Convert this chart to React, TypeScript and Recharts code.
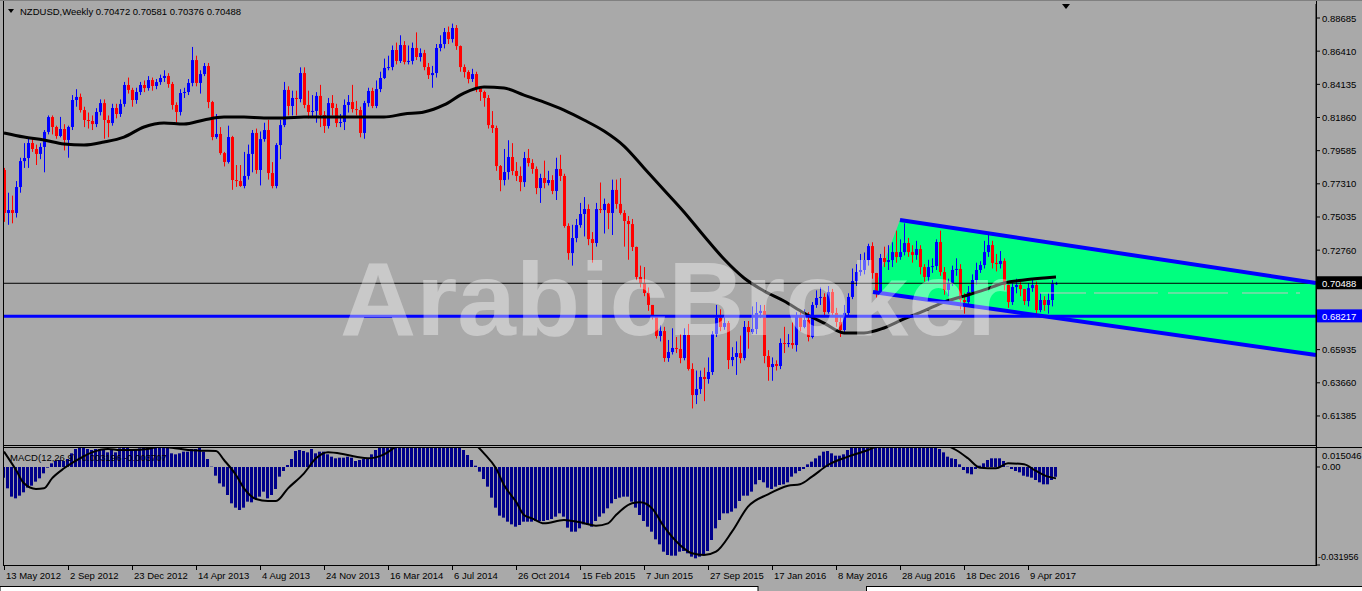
import React from "react";
import { Area, Bar, ComposedChart, Line, ReferenceLine, XAxis, YAxis } from "recharts";

// weekly NZDUSD candles, index 0 = 13 May 2012
const firstOpen = 0.7826;
const closes = [
  0.7531, 0.7551, 0.7531, 0.7709, 0.7887, 0.7908, 0.8011, 0.7970, 0.7936, 0.7984,
  0.8087, 0.8189, 0.8121, 0.8059, 0.8107, 0.8032, 0.8121, 0.8306, 0.8327, 0.8237,
  0.8169, 0.8162, 0.8141, 0.8224, 0.8285, 0.8169, 0.8148, 0.8251, 0.8210, 0.8279,
  0.8409, 0.8375, 0.8306, 0.8361, 0.8409, 0.8388, 0.8443, 0.8402, 0.8429, 0.8457,
  0.8471, 0.8416, 0.8272, 0.8224, 0.8354, 0.8361, 0.8423, 0.8580, 0.8423, 0.8484,
  0.8539, 0.8292, 0.8052, 0.8073, 0.7942, 0.7881, 0.8052, 0.7757, 0.7750, 0.7716,
  0.7785, 0.7936, 0.8080, 0.7826, 0.8038, 0.8100, 0.7805, 0.7716, 0.7997, 0.8134,
  0.8375, 0.8265, 0.8320, 0.8313, 0.8491, 0.8272, 0.8224, 0.8231, 0.8334, 0.8203,
  0.8128, 0.8285, 0.8251, 0.8148, 0.8155, 0.8272, 0.8292, 0.8244, 0.8237, 0.8080,
  0.8285, 0.8368, 0.8265, 0.8381, 0.8457, 0.8526, 0.8532, 0.8649, 0.8574, 0.8683,
  0.8567, 0.8574, 0.8663, 0.8601, 0.8628, 0.8532, 0.8477, 0.8491, 0.8663, 0.8690,
  0.8772, 0.8724, 0.8800, 0.8676, 0.8532, 0.8498, 0.8450, 0.8484, 0.8388, 0.8361,
  0.8320, 0.8134, 0.8114, 0.7853, 0.7757, 0.7812, 0.7915, 0.7819, 0.7785, 0.7743,
  0.7908, 0.7874, 0.7833, 0.7702, 0.7771, 0.7737, 0.7757, 0.7682, 0.7833, 0.7785,
  0.7442, 0.7256, 0.7359, 0.7448, 0.7524, 0.7558, 0.7352, 0.7325, 0.7558, 0.7551,
  0.7593, 0.7531, 0.7689, 0.7593, 0.7531, 0.7476, 0.7455, 0.7298, 0.7092, 0.7051,
  0.6982, 0.6900, 0.6824, 0.6687, 0.6721, 0.6536, 0.6577, 0.6605, 0.6598, 0.6536,
  0.6694, 0.6461, 0.6282, 0.6323, 0.6406, 0.6392, 0.6440, 0.6701, 0.6811, 0.6749,
  0.6776, 0.6522, 0.6543, 0.6570, 0.6536, 0.6749, 0.6714, 0.6735, 0.6845, 0.6859,
  0.6550, 0.6474, 0.6495, 0.6481, 0.6639, 0.6632, 0.6639, 0.6625, 0.6824, 0.6749,
  0.6797, 0.6680, 0.6900, 0.6948, 0.6955, 0.6852, 0.6989, 0.6845, 0.6783, 0.6728,
  0.6845, 0.6955, 0.7064, 0.7126, 0.7140, 0.7208, 0.7304, 0.7119, 0.6989, 0.7222,
  0.7195, 0.7208, 0.7263, 0.7229, 0.7263, 0.7325, 0.7263, 0.7243, 0.7284, 0.7160,
  0.7092, 0.7160, 0.7167, 0.7332, 0.7126, 0.7003, 0.7051, 0.7140, 0.7147, 0.6934,
  0.6920, 0.6989, 0.7071, 0.7140, 0.7174, 0.7263, 0.7311, 0.7188, 0.7181, 0.7202,
  0.7037, 0.6920, 0.7023, 0.7037, 0.7009, 0.6927, 0.7016, 0.7037, 0.6865, 0.6934,
  0.6900, 0.6934, 0.7047, 0.70488,
];
const highs = [
  0.784, 0.767, 0.765, 0.775, 0.791, 0.801, 0.804, 0.804, 0.800, 0.801,
  0.810, 0.820, 0.820, 0.813, 0.819, 0.814, 0.813, 0.834, 0.838, 0.835,
  0.826, 0.822, 0.820, 0.825, 0.831, 0.831, 0.820, 0.828, 0.828, 0.831,
  0.843, 0.846, 0.839, 0.839, 0.843, 0.844, 0.847, 0.846, 0.845, 0.848,
  0.851, 0.849, 0.843, 0.829, 0.838, 0.839, 0.845, 0.867, 0.861, 0.851,
  0.856, 0.856, 0.830, 0.821, 0.812, 0.795, 0.813, 0.806, 0.786, 0.786,
  0.795, 0.800, 0.810, 0.811, 0.809, 0.815, 0.817, 0.788, 0.801, 0.817,
  0.843, 0.840, 0.837, 0.837, 0.853, 0.853, 0.837, 0.834, 0.836, 0.841,
  0.823, 0.832, 0.834, 0.828, 0.821, 0.831, 0.834, 0.841, 0.830, 0.826,
  0.830, 0.839, 0.839, 0.844, 0.850, 0.859, 0.861, 0.868, 0.870, 0.875,
  0.871, 0.868, 0.870, 0.877, 0.866, 0.865, 0.856, 0.854, 0.869, 0.875,
  0.880, 0.881, 0.883, 0.882, 0.868, 0.855, 0.851, 0.852, 0.850, 0.840,
  0.837, 0.834, 0.823, 0.813, 0.786, 0.797, 0.803, 0.801, 0.788, 0.785,
  0.795, 0.797, 0.790, 0.785, 0.780, 0.789, 0.782, 0.779, 0.791, 0.793,
  0.780, 0.746, 0.745, 0.749, 0.760, 0.764, 0.759, 0.740, 0.760, 0.774,
  0.763, 0.760, 0.776, 0.776, 0.777, 0.755, 0.751, 0.749, 0.730, 0.717,
  0.716, 0.702, 0.690, 0.683, 0.676, 0.675, 0.666, 0.674, 0.668, 0.670,
  0.674, 0.677, 0.650, 0.645, 0.645, 0.647, 0.654, 0.672, 0.690, 0.687,
  0.682, 0.679, 0.661, 0.665, 0.669, 0.679, 0.679, 0.689, 0.692, 0.690,
  0.690, 0.659, 0.654, 0.652, 0.667, 0.675, 0.670, 0.678, 0.685, 0.685,
  0.687, 0.685, 0.692, 0.700, 0.702, 0.698, 0.703, 0.701, 0.688, 0.682,
  0.690, 0.698, 0.715, 0.718, 0.725, 0.726, 0.732, 0.733, 0.712, 0.725,
  0.730, 0.731, 0.733, 0.741, 0.735, 0.746, 0.736, 0.731, 0.734, 0.731,
  0.718, 0.721, 0.722, 0.735, 0.741, 0.716, 0.708, 0.717, 0.722, 0.718,
  0.698, 0.703, 0.711, 0.719, 0.720, 0.734, 0.738, 0.734, 0.725, 0.727,
  0.722, 0.704, 0.705, 0.708, 0.706, 0.701, 0.705, 0.708, 0.706, 0.698,
  0.696, 0.698, 0.707, 0.70581,
];
const lows = [
  0.747, 0.745, 0.746, 0.750, 0.767, 0.784, 0.784, 0.795, 0.786, 0.790,
  0.781, 0.807, 0.807, 0.804, 0.805, 0.796, 0.791, 0.810, 0.826, 0.822,
  0.812, 0.811, 0.810, 0.812, 0.820, 0.804, 0.805, 0.813, 0.818, 0.819,
  0.826, 0.835, 0.826, 0.828, 0.834, 0.836, 0.837, 0.837, 0.838, 0.841,
  0.843, 0.839, 0.824, 0.815, 0.820, 0.832, 0.834, 0.840, 0.840, 0.835,
  0.847, 0.825, 0.803, 0.804, 0.793, 0.785, 0.787, 0.769, 0.771, 0.771,
  0.770, 0.776, 0.781, 0.780, 0.772, 0.802, 0.776, 0.770, 0.770, 0.790,
  0.812, 0.820, 0.820, 0.820, 0.829, 0.825, 0.818, 0.819, 0.815, 0.812,
  0.808, 0.811, 0.820, 0.812, 0.812, 0.810, 0.822, 0.822, 0.820, 0.805,
  0.804, 0.826, 0.825, 0.825, 0.836, 0.845, 0.851, 0.851, 0.855, 0.856,
  0.855, 0.855, 0.855, 0.858, 0.857, 0.851, 0.845, 0.839, 0.846, 0.864,
  0.866, 0.869, 0.870, 0.865, 0.850, 0.846, 0.842, 0.843, 0.836, 0.830,
  0.826, 0.811, 0.808, 0.782, 0.768, 0.772, 0.776, 0.779, 0.775, 0.768,
  0.771, 0.785, 0.780, 0.766, 0.760, 0.770, 0.772, 0.766, 0.762, 0.775,
  0.743, 0.721, 0.717, 0.733, 0.743, 0.737, 0.731, 0.719, 0.730, 0.753,
  0.739, 0.742, 0.738, 0.756, 0.752, 0.730, 0.721, 0.727, 0.707, 0.702,
  0.696, 0.686, 0.680, 0.667, 0.665, 0.651, 0.651, 0.656, 0.657, 0.650,
  0.652, 0.645, 0.619, 0.622, 0.629, 0.624, 0.636, 0.642, 0.668, 0.672,
  0.673, 0.646, 0.648, 0.642, 0.650, 0.652, 0.660, 0.670, 0.670, 0.681,
  0.650, 0.638, 0.638, 0.645, 0.646, 0.657, 0.661, 0.660, 0.658, 0.672,
  0.674, 0.665, 0.667, 0.688, 0.690, 0.683, 0.684, 0.683, 0.675, 0.668,
  0.671, 0.683, 0.694, 0.703, 0.710, 0.711, 0.717, 0.708, 0.695, 0.697,
  0.716, 0.714, 0.716, 0.719, 0.721, 0.724, 0.723, 0.719, 0.721, 0.711,
  0.706, 0.706, 0.712, 0.714, 0.710, 0.697, 0.696, 0.703, 0.710, 0.687,
  0.684, 0.689, 0.697, 0.704, 0.712, 0.715, 0.723, 0.715, 0.713, 0.715,
  0.700, 0.688, 0.690, 0.698, 0.696, 0.690, 0.689, 0.699, 0.684, 0.685,
  0.686, 0.684, 0.689, 0.70376,
];

// moving average, read every 5 bars
const maIdx = [0, 5, 10, 15, 20, 25, 30, 35, 40, 45, 50, 55, 60, 65, 70, 75, 80, 85, 90, 95, 100, 105, 110, 115, 120, 125, 130, 135, 140, 145, 150, 155, 160, 165, 170, 175, 180, 185, 190, 195, 200, 205, 210, 215, 220, 225, 230, 235, 240, 245, 250, 255, 260, 263];
const maVal = [
  0.8080, 0.8052, 0.8032, 0.8004, 0.7997, 0.8018, 0.8052, 0.8121, 0.8148, 0.8141,
  0.8169, 0.8189, 0.8189, 0.8183, 0.8183, 0.8189, 0.8189, 0.8189, 0.8189, 0.8189,
  0.8210, 0.8224, 0.8272, 0.8354, 0.8395, 0.8388, 0.8340, 0.8292, 0.8237, 0.8169,
  0.8093, 0.7990, 0.7840, 0.7689, 0.7538, 0.7373, 0.7215, 0.7085, 0.6996, 0.6927,
  0.6845, 0.6776, 0.6708, 0.6708, 0.6742, 0.6804, 0.6859, 0.6920, 0.6961, 0.7003,
  0.7051, 0.7071, 0.7085, 0.7092,
];

// MACD(12,26,9) main values, one per bar
const macdVals = [
  -0.00348, -0.00696, -0.00967, -0.01022, -0.00935, -0.00826, -0.00674, -0.00609, -0.00478, -0.00370,
  -0.00207, -0.00022, 0.00120, 0.00196, 0.00228, 0.00196, 0.00261, 0.00446, 0.00587, 0.00641,
  0.00630, 0.00587, 0.00554, 0.00587, 0.00587, 0.00554, 0.00478, 0.00554, 0.00478, 0.00609,
  0.00720, 0.00630, 0.00554, 0.00587, 0.00609, 0.00663, 0.00663, 0.00685, 0.00696, 0.00696,
  0.00663, 0.00630, 0.00446, 0.00413, 0.00446, 0.00500, 0.00500, 0.00587, 0.00587, 0.00663,
  0.00500, 0.00261, 0.00011, -0.00283, -0.00533, -0.00641, -0.00913, -0.01185, -0.01326, -0.01402,
  -0.01326, -0.01130, -0.01152, -0.01043, -0.00967, -0.00804, -0.01022, -0.00913, -0.00717, -0.00315,
  -0.00130, 0.00065, 0.00261, 0.00522, 0.00554, 0.00522, 0.00478, 0.00587, 0.00446, 0.00500,
  0.00500, 0.00413, 0.00337, 0.00283, 0.00304, 0.00304, 0.00337, 0.00304, 0.00196, 0.00228,
  0.00261, 0.00283, 0.00413, 0.00554, 0.00663, 0.0078, 0.0088, 0.0098, 0.0108, 0.0117,
  0.0125, 0.0132, 0.0138, 0.0143, 0.0147, 0.0150, 0.0150, 0.0147, 0.0142, 0.0135,
  0.0127, 0.0118, 0.0108, 0.0097, 0.0085, 0.00554, 0.00391, 0.00228, 0.00043, -0.00152,
  -0.00391, -0.00641, -0.01000, -0.01326, -0.01587, -0.01652, -0.01783, -0.01870, -0.01946, -0.01891,
  -0.01783, -0.01783, -0.01783, -0.01761, -0.01761, -0.01761, -0.01728, -0.01696, -0.01620, -0.01511,
  -0.01620, -0.01978, -0.02109, -0.02109, -0.02000, -0.01870, -0.01891, -0.01946, -0.01761, -0.01620,
  -0.01511, -0.01348, -0.01185, -0.01043, -0.01000, -0.00967, -0.00967, -0.01130, -0.01326, -0.01565,
  -0.01761, -0.01946, -0.02109, -0.02359, -0.02522, -0.02761, -0.02870, -0.02891, -0.02891, -0.02761,
  -0.02739, -0.02815, -0.02924, -0.02978, -0.02924, -0.02870, -0.02739, -0.02380, -0.02000, -0.01728,
  -0.01511, -0.01511, -0.01457, -0.01348, -0.01109, -0.00935, -0.00935, -0.00804, -0.00565, -0.00424,
  -0.00500, -0.00674, -0.00717, -0.00641, -0.00587, -0.00565, -0.00500, -0.00315, -0.00207, -0.00130,
  -0.00065, 0.00087, 0.00174, 0.00283, 0.00370, 0.00500, 0.00522, 0.00446, 0.00370, 0.00370,
  0.00413, 0.00554, 0.00663, 0.0078, 0.0089, 0.0100, 0.0110, 0.0120, 0.0128, 0.0135,
  0.0141, 0.0146, 0.0150, 0.0150, 0.0148, 0.0144, 0.0138, 0.0130, 0.0121, 0.0111,
  0.0100, 0.0089, 0.0078, 0.00663, 0.00587, 0.00478, 0.00337, 0.00283, 0.00261, 0.00087,
  -0.00098, -0.00207, -0.00239, -0.00065, 0.00043, 0.00120, 0.00228, 0.00283, 0.00283, 0.00283,
  0.00196, 0.00011, -0.00065, -0.00130, -0.00174, -0.00283, -0.00315, -0.00348, -0.00424, -0.00500,
  -0.00565, -0.00565, -0.00424, -0.003196,
];

// MACD signal line
const sigIdx = [0, 3, 5, 8, 10, 12, 15, 19, 22, 26, 29, 32, 36, 39, 42, 46, 49, 53, 55, 58, 60, 63, 66, 68, 71, 75, 78, 81, 85, 88, 91, 95, 98, 100, 104, 108, 112, 115, 118, 120, 123, 125, 128, 130, 132, 135, 140, 144, 148, 151, 153, 157, 159, 162, 165, 169, 172, 175, 178, 182, 186, 191, 196, 199, 202, 206, 211, 216, 219, 223, 227, 231, 235, 238, 241, 244, 248, 251, 255, 258, 261, 263];
const sigVal = [
  0.00500, -0.00098, -0.00533, -0.00717, -0.00696, -0.00370, -0.00043, 0.00283, 0.00478, 0.00587,
  0.00554, 0.00554, 0.00587, 0.00663, 0.00630, 0.00554, 0.00533, 0.00522, 0.00228, -0.00261,
  -0.00696, -0.01043, -0.01109, -0.01109, -0.00696, -0.00207, 0.00283, 0.00478, 0.00413, 0.00337,
  0.00283, 0.00413, 0.00663, 0.0080, 0.0100, 0.0120, 0.0125, 0.0110, 0.0072, 0.00446,
  -0.00043, -0.00587, -0.01130, -0.01565, -0.01674, -0.01837, -0.01728, -0.01804, -0.01913, -0.01837,
  -0.01565, -0.01185, -0.01152, -0.01348, -0.01946, -0.02543, -0.02815, -0.02870, -0.02761, -0.02109,
  -0.01293, -0.00891, -0.00609, -0.00565, -0.00315, 0.00065, 0.00337, 0.00554, 0.0072, 0.0095,
  0.0110, 0.0100, 0.0075, 0.00554, 0.00283, -0.00022, -0.00043, 0.00120, 0.00087, -0.00130,
  -0.00315, -0.003707,
];

const priceTicks = [0.88685, 0.8641, 0.84135, 0.8186, 0.79585, 0.7731, 0.75035, 0.7276, 0.70488, 0.68217, 0.65935, 0.6366, 0.61385];
const lastPrice = 0.70488;
const levelPrice = 0.68217;
const macdTopLabel = 0.015046;
const macdBottom = -0.031956;

const xTickIdx = [0, 16, 32, 48, 64, 80, 96, 112, 128, 144, 160, 176, 192, 208, 224, 240, 256];
const xTickLabels = ["13 May 2012", "2 Sep 2012", "23 Dec 2012", "14 Apr 2013", "4 Aug 2013", "24 Nov 2013", "16 Mar 2014", "6 Jul 2014", "26 Oct 2014", "15 Feb 2015", "7 Jun 2015", "27 Sep 2015", "17 Jan 2016", "8 May 2016", "28 Aug 2016", "18 Dec 2016", "9 Apr 2017"];

// drawn channel (bar index, price)
const upperLine = [{ x: 224, y: 0.7483 }, { x: 328, y: 0.7051 }];
const lowerLine = [{ x: 217.25, y: 0.6989 }, { x: 328, y: 0.6557 }];

const UP = "#0000FF";
const DOWN = "#FF0000";
const BG = "#A9A9A9";
const FONT = '"Liberation Sans", Arial, sans-serif';
const X_DOMAIN: [number, number] = [-0.25, 328];
const PRICE_DOMAIN: [number, number] = [0.59393, 0.89646];
const MACD_DOMAIN: [number, number] = [macdBottom, 0.00652];

const candles = closes.map((c, i) => ({
  i,
  open: i === 0 ? firstOpen : closes[i - 1],
  close: c,
  high: highs[i],
  low: lows[i],
  range: [lows[i], highs[i]],
}));
const maRows = maIdx.map((i, k) => ({ i, v: maVal[k] }));
const macdRows = macdVals.map((v, i) => ({ i, macd: v }));
const sigRows = sigIdx.map((i, k) => ({ i, v: sigVal[k] }));

const lowerAt = (x: number) =>
  lowerLine[0].y + ((lowerLine[1].y - lowerLine[0].y) * (x - lowerLine[0].x)) / (lowerLine[1].x - lowerLine[0].x);
const fillRows = [
  { i: lowerLine[0].x, band: [lowerLine[0].y, lowerLine[0].y] },
  { i: upperLine[0].x, band: [lowerAt(upperLine[0].x), upperLine[0].y] },
  { i: upperLine[1].x, band: [lowerLine[1].y, upperLine[1].y] },
];

function Candle(props: any) {
  const { x, y, width, height, payload } = props;
  if (x == null || y == null) return null;
  const { open, close, high, low } = payload;
  const span = high - low;
  const toY = (p: number) => (span > 0 ? y + ((high - p) / span) * height : y);
  const cx = Math.round(x + width / 2);
  const color = close >= open ? UP : DOWN;
  const top = toY(Math.max(open, close));
  const bot = toY(Math.min(open, close));
  return (
    <g>
      <line x1={cx + 0.5} x2={cx + 0.5} y1={y} y2={y + height} stroke={color} strokeWidth={1} />
      <rect x={cx - 1} y={top} width={3} height={Math.max(1, bot - top)} fill={color} />
    </g>
  );
}

function PriceTick(props: any) {
  const { x, y, payload } = props;
  const v = payload.value;
  const label = v.toFixed(5);
  let box = null;
  let color = "#000";
  if (v === lastPrice) {
    box = <rect x={x - 5} y={y - 7} width={46} height={13} fill="#000" />;
    color = "#fff";
  } else if (v === levelPrice) {
    box = <rect x={x - 5} y={y - 7} width={46} height={13} fill="#0000FF" />;
    color = "#fff";
  }
  return (
    <g>
      {box}
      <text x={x} y={y + 3.5} fill={color} fontSize={9.5} fontFamily={FONT}>
        {label}
      </text>
    </g>
  );
}

function MacdTick(props: any) {
  const { x, y, payload } = props;
  const v = payload.value;
  let label = "0.00";
  let dy = 3.5;
  let dx = 0;
  let size = 9.5;
  if (v > 0) {
    label = macdTopLabel.toFixed(6);
    dy = 12;
  } else if (v < 0) {
    label = macdBottom.toFixed(6);
    dy = -5;
    dx = -4;
    size = 9;
  }
  return (
    <text x={x + dx} y={y + dy} fill="#000" fontSize={size} fontFamily={FONT}>
      {label}
    </text>
  );
}

function DateTick(props: any) {
  const { x, y, payload } = props;
  const k = xTickIdx.indexOf(payload.value);
  return (
    <g>
      <line x1={x + 0.5} x2={x + 0.5} y1={y} y2={y + 5} stroke="#000" />
      <text x={x + 2} y={y + 14} fill="#000" fontSize={9.5} fontFamily={FONT}>
        {xTickLabels[k]}
      </text>
    </g>
  );
}

export default function App() {
  return (
    <div
      style={{
        position: "absolute",
        left: 0,
        top: 0,
        width: 1362,
        height: 591,
        background: BG,
        overflow: "hidden",
        fontFamily: FONT,
      }}
    >
      <div style={{ position: "absolute", left: 0, top: 0 }}>
        <ComposedChart width={1362} height={446} data={candles} margin={{ top: 4, right: 0, bottom: 1, left: 3 }}>
          <XAxis type="number" dataKey="i" domain={X_DOMAIN} hide allowDataOverflow />
          <YAxis
            orientation="right"
            domain={PRICE_DOMAIN}
            ticks={priceTicks}
            interval={0}
            width={46}
            allowDataOverflow
            tickSize={4}
            tickMargin={2}
            stroke="#000"
            tick={<PriceTick />}
          />
          <Area
            data={fillRows}
            dataKey="band"
            type="linear"
            stroke="none"
            fill="#00FF7F"
            fillOpacity={1}
            isAnimationActive={false}
          />
          <Bar dataKey="range" barSize={3} shape={<Candle />} isAnimationActive={false} />
          <Line
            data={maRows}
            dataKey="v"
            type="monotone"
            stroke="#000"
            strokeWidth={3}
            dot={false}
            isAnimationActive={false}
          />
          <ReferenceLine y={lastPrice} stroke="#000" strokeWidth={1} />
          <ReferenceLine y={levelPrice} stroke="#0000FF" strokeWidth={3} />
          <ReferenceLine segment={upperLine} stroke="#0000FF" strokeWidth={4} ifOverflow="visible" />
          <ReferenceLine segment={lowerLine} stroke="#0000FF" strokeWidth={4} ifOverflow="visible" />
          <ReferenceLine
            segment={[{ x: 259, y: 0.6982 }, { x: 324, y: 0.6982 }]}
            stroke="#C4C4C4"
            strokeWidth={1}
            strokeDasharray="46 8 64 10 60 14"
          />
        </ComposedChart>
      </div>

      <div style={{ position: "absolute", left: 0, top: 447 }}>
        <ComposedChart width={1362} height={137} data={macdRows} margin={{ top: 0, right: 0, bottom: 0, left: 3 }}>
          <XAxis
            type="number"
            dataKey="i"
            domain={X_DOMAIN}
            ticks={xTickIdx}
            interval={0}
            height={19}
            axisLine={false}
            tickLine={false}
            tickSize={0}
            tickMargin={0}
            allowDataOverflow
            tick={<DateTick />}
          />
          <YAxis
            orientation="right"
            domain={MACD_DOMAIN}
            ticks={[MACD_DOMAIN[1], 0, macdBottom]}
            interval={0}
            width={46}
            allowDataOverflow
            tickSize={4}
            tickMargin={2}
            stroke="#000"
            tick={<MacdTick />}
          />
          <Bar dataKey="macd" fill="#00008B" barSize={3} isAnimationActive={false} />
          <Line
            data={sigRows}
            dataKey="v"
            type="monotone"
            stroke="#000"
            strokeWidth={2}
            dot={false}
            isAnimationActive={false}
          />
        </ComposedChart>
      </div>

      <svg width={1362} height={591} style={{ position: "absolute", left: 0, top: 0, pointerEvents: "none" }}>
        <text
          x={340}
          y={335}
          fontSize={104}
          fontWeight="bold"
          fontFamily={FONT}
          fill="#FFFFFF"
          fillOpacity={0.38}
          textLength={668}
          lengthAdjust="spacingAndGlyphs"
        >
          ArabicBroker
        </text>
        <line x1={0} x2={1362} y1={0.5} y2={0.5} stroke="#808080" />
        <line x1={3.5} x2={3.5} y1={1} y2={566} stroke="#000" />
        <line x1={1316.5} x2={1316.5} y1={1} y2={566} stroke="#000" />
        <line x1={3} x2={1317} y1={445.5} y2={445.5} stroke="#000" />
        <line x1={3} x2={1362} y1={447.5} y2={447.5} stroke="#000" />
        <line x1={3} x2={1317} y1={565.5} y2={565.5} stroke="#000" />
        <polygon points="1062,4 1070,4 1066,9" fill="#000" />
        <polygon points="8,9 14,9 11,13" fill="#000" />
        <text x={20} y={15} fontSize={9.5} fontFamily={FONT} fill="#000">
          NZDUSD,Weekly  0.70472 0.70581 0.70376 0.70488
        </text>
        <text x={10} y={461} fontSize={9.5} fontFamily={FONT} fill="#000">
          MACD(12,26,9) -0.003196 -0.003707
        </text>
        <rect x={0} y={586.5} width={758} height={6} fill="#fff" stroke="#000" />
        <rect x={866.5} y={586.5} width={497} height={6} fill="#fff" stroke="#000" />
      </svg>
    </div>
  );
}
